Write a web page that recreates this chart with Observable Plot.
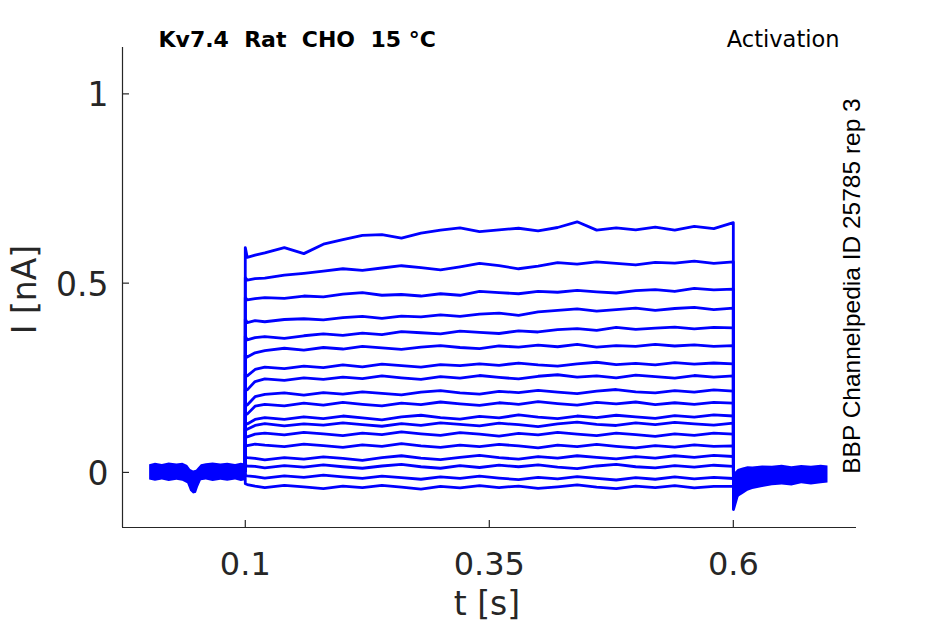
<!DOCTYPE html>
<html>
<head>
<meta charset="utf-8">
<script src="https://cdn.jsdelivr.net/npm/d3@7"></script>
<script src="https://cdn.jsdelivr.net/npm/@observablehq/plot@0.6"></script>
<style>
  html, body { margin: 0; padding: 0; background: #ffffff; }
</style>
</head>
<body>
<div id="chart"></div>
<script>
// ---- data ----
const xTicks = [0.1, 0.35, 0.6];
const yTicks = [0, 0.5, 1];
const xDomain = [-0.0258, 0.7262];
const yDomain = [-0.1455, 1.1225];

const titleText = "Kv7.4\u00a0\u00a0Rat\u00a0\u00a0CHO\u00a0\u00a015\u00a0°C";
const protocolText = "Activation";
const sideText = "BBP Channelpedia ID 25785 rep 3";
const xLabel = "t [s]";
const yLabel = "I [nA]";

// sample times (s) of each sweep
const T = [0.0999, 0.1, 0.102, 0.11, 0.12, 0.14, 0.16, 0.18, 0.2, 0.22, 0.24, 0.26, 0.28, 0.3, 0.32, 0.34,
           0.36, 0.38, 0.4, 0.42, 0.44, 0.46, 0.48, 0.5, 0.52, 0.54, 0.56, 0.58, 0.6, 0.6001, 0.606];

// current (nA) of each sweep, top to bottom
const sw01 = [0.005, 0.594, 0.568, 0.574, 0.58, 0.594, 0.578, 0.603, 0.615, 0.626, 0.628, 0.619, 0.632, 0.64, 0.646, 0.636, 0.641, 0.645, 0.638, 0.647, 0.662, 0.64, 0.646, 0.641, 0.648, 0.64, 0.65, 0.644, 0.66, -0.098, -0.045];
const sw02 = [0.005, 0.515, 0.508, 0.512, 0.513, 0.521, 0.526, 0.532, 0.538, 0.534, 0.54, 0.546, 0.541, 0.535, 0.543, 0.552, 0.546, 0.538, 0.545, 0.554, 0.55, 0.556, 0.552, 0.548, 0.555, 0.553, 0.558, 0.552, 0.556, -0.09, -0.04];
const sw03 = [0.005, 0.462, 0.456, 0.459, 0.462, 0.46, 0.466, 0.464, 0.471, 0.475, 0.468, 0.47, 0.466, 0.472, 0.468, 0.478, 0.475, 0.472, 0.478, 0.476, 0.481, 0.477, 0.474, 0.48, 0.483, 0.478, 0.486, 0.482, 0.484, -0.085, -0.04];
const sw04 = [0.004, 0.405, 0.396, 0.401, 0.398, 0.404, 0.406, 0.403, 0.409, 0.412, 0.407, 0.413, 0.411, 0.416, 0.412, 0.418, 0.421, 0.415, 0.424, 0.428, 0.432, 0.426, 0.43, 0.434, 0.428, 0.433, 0.436, 0.43, 0.434, -0.08, -0.035];
const sw05 = [0.004, 0.36, 0.35, 0.356, 0.359, 0.354, 0.361, 0.366, 0.362, 0.368, 0.364, 0.372, 0.369, 0.366, 0.373, 0.37, 0.367, 0.374, 0.371, 0.377, 0.38, 0.375, 0.383, 0.378, 0.381, 0.384, 0.379, 0.383, 0.382, -0.075, -0.035];
const sw06 = [0.004, 0.31, 0.305, 0.316, 0.322, 0.328, 0.323, 0.33, 0.326, 0.333, 0.329, 0.325, 0.331, 0.335, 0.33, 0.327, 0.334, 0.331, 0.336, 0.332, 0.338, 0.331, 0.335, 0.333, 0.338, 0.334, 0.337, 0.333, 0.335, -0.07, -0.03];
const sw07 = [0.004, 0.26, 0.255, 0.272, 0.278, 0.274, 0.281, 0.277, 0.284, 0.279, 0.286, 0.282, 0.278, 0.285, 0.282, 0.287, 0.283, 0.289, 0.284, 0.281, 0.287, 0.291, 0.285, 0.288, 0.284, 0.29, 0.286, 0.289, 0.287, -0.065, -0.03];
const sw08 = [0.004, 0.22, 0.218, 0.24, 0.247, 0.243, 0.25, 0.246, 0.252, 0.248, 0.255, 0.25, 0.246, 0.253, 0.249, 0.256, 0.251, 0.247, 0.254, 0.258, 0.252, 0.255, 0.25, 0.257, 0.253, 0.249, 0.256, 0.252, 0.255, -0.06, -0.03];
const sw09 = [0.004, 0.18, 0.178, 0.2, 0.206, 0.21, 0.204, 0.211, 0.207, 0.213, 0.209, 0.205, 0.212, 0.216, 0.21, 0.207, 0.214, 0.211, 0.217, 0.212, 0.208, 0.215, 0.219, 0.213, 0.21, 0.216, 0.212, 0.218, 0.215, -0.055, -0.028];
const sw10 = [0.004, 0.155, 0.154, 0.175, 0.18, 0.176, 0.183, 0.178, 0.185, 0.18, 0.176, 0.183, 0.179, 0.186, 0.181, 0.177, 0.184, 0.18, 0.187, 0.182, 0.178, 0.185, 0.181, 0.186, 0.179, 0.184, 0.18, 0.185, 0.183, -0.05, -0.025];
const sw11 = [0.004, 0.13, 0.128, 0.14, 0.145, 0.14, 0.147, 0.142, 0.149, 0.144, 0.139, 0.147, 0.151, 0.145, 0.141, 0.148, 0.144, 0.152, 0.146, 0.142, 0.149, 0.145, 0.151, 0.147, 0.143, 0.15, 0.146, 0.152, 0.149, -0.045, -0.025];
const sw12 = [0.004, 0.115, 0.114, 0.124, 0.129, 0.123, 0.128, 0.125, 0.131, 0.126, 0.122, 0.129, 0.124, 0.131, 0.127, 0.123, 0.13, 0.126, 0.121, 0.128, 0.133, 0.127, 0.124, 0.131, 0.126, 0.132, 0.128, 0.125, 0.13, -0.04, -0.022];
const sw13 = [0.004, 0.095, 0.094, 0.101, 0.104, 0.099, 0.106, 0.102, 0.097, 0.104, 0.1, 0.107, 0.102, 0.098, 0.105, 0.101, 0.096, 0.103, 0.099, 0.106, 0.101, 0.097, 0.104, 0.1, 0.095, 0.102, 0.098, 0.104, 0.101, -0.035, -0.02];
const sw14 = [0.004, 0.072, 0.071, 0.075, 0.072, 0.068, 0.075, 0.071, 0.066, 0.073, 0.069, 0.076, 0.07, 0.066, 0.072, 0.068, 0.074, 0.07, 0.065, 0.072, 0.068, 0.074, 0.069, 0.065, 0.071, 0.067, 0.073, 0.069, 0.07, -0.03, -0.02];
const sw15 = [0.004, 0.04, 0.039, 0.037, 0.033, 0.039, 0.035, 0.041, 0.037, 0.032, 0.039, 0.044, 0.038, 0.034, 0.04, 0.045, 0.039, 0.035, 0.042, 0.038, 0.044, 0.04, 0.036, 0.042, 0.038, 0.044, 0.04, 0.045, 0.042, -0.03, -0.018];
const sw16 = [0.004, 0.018, 0.017, 0.016, 0.012, 0.018, 0.014, 0.02, 0.015, 0.011, 0.017, 0.021, 0.015, 0.011, 0.018, 0.013, 0.019, 0.015, 0.02, 0.014, 0.01, 0.017, 0.021, 0.015, 0.012, 0.018, 0.014, 0.019, 0.016, -0.03, -0.018];
const sw17 = [0.004, -0.008, -0.009, -0.011, -0.015, -0.009, -0.013, -0.007, -0.012, -0.016, -0.01, -0.014, -0.018, -0.012, -0.016, -0.01, -0.015, -0.019, -0.013, -0.017, -0.011, -0.016, -0.02, -0.014, -0.018, -0.012, -0.017, -0.013, -0.016, -0.03, -0.02];
const sw18 = [0.004, -0.03, -0.032, -0.036, -0.04, -0.034, -0.038, -0.043, -0.036, -0.04, -0.034, -0.039, -0.044, -0.037, -0.041, -0.035, -0.04, -0.036, -0.042, -0.038, -0.033, -0.039, -0.043, -0.036, -0.04, -0.035, -0.041, -0.037, -0.037, -0.04, -0.025];

// overlapped holding-current envelope before the step
const preT  = [0.002, 0.008, 0.015, 0.022, 0.03, 0.036, 0.041, 0.044, 0.047, 0.05, 0.052, 0.055, 0.06, 0.067, 0.075, 0.082, 0.09, 0.096, 0.0999];
const preHi = [0.02, 0.024, 0.021, 0.025, 0.022, 0.024, 0.018, 0.008, 0.004, 0.006, 0.012, 0.02, 0.023, 0.025, 0.022, 0.024, 0.021, 0.024, 0.022];
const preLo = [-0.02, -0.023, -0.02, -0.024, -0.021, -0.023, -0.03, -0.05, -0.057, -0.055, -0.04, -0.022, -0.02, -0.024, -0.021, -0.023, -0.02, -0.024, -0.022];

// overlapped tail envelope after the step
const postT  = [0.6002, 0.602, 0.605, 0.61, 0.615, 0.62, 0.63, 0.64, 0.65, 0.66, 0.67, 0.68, 0.69, 0.697];
const postHi = [-0.01, 0.0, 0.008, 0.012, 0.015, 0.014, 0.017, 0.016, 0.019, 0.015, 0.018, 0.016, 0.019, 0.017];
const postLo = [-0.1, -0.08, -0.066, -0.058, -0.05, -0.045, -0.04, -0.035, -0.033, -0.036, -0.03, -0.033, -0.03, -0.028];

// ---- build tables ----
const sweeps = [sw01, sw02, sw03, sw04, sw05, sw06, sw07, sw08, sw09, sw10, sw11, sw12, sw13, sw14, sw15, sw16, sw17, sw18];
const rows = [];
sweeps.forEach((vals, k) => vals.forEach((v, i) => rows.push({sweep: k, t: T[i], v})));
const preRows = preT.map((t, i) => ({t, lo: preLo[i], hi: preHi[i]}));
const postRows = postT.map((t, i) => ({t, lo: postLo[i], hi: postHi[i]}));

const W = 945, H = 624;
const mL = 122, mR = 89, mT = 47, mB = 97;
const ink = "#262626";
const blue = "#0000ff";
const xTickLen = (yDomain[1] - yDomain[0]) * 7 / (H - mT - mB);
const yTickLen = (xDomain[1] - xDomain[0]) * 7 / (W - mL - mR);

const chart = Plot.plot({
  width: W,
  height: H,
  marginLeft: mL,
  marginRight: mR,
  marginTop: mT,
  marginBottom: mB,
  style: {fontFamily: "DejaVu Sans", color: ink, background: "#ffffff"},
  x: {domain: xDomain, ticks: xTicks},
  y: {domain: yDomain, ticks: yTicks},
  marks: [
    Plot.areaY(preRows, {x: "t", y1: "lo", y2: "hi", fill: blue}),
    Plot.areaY(postRows, {x: "t", y1: "lo", y2: "hi", fill: blue}),
    Plot.line(rows, {x: "t", y: "v", z: "sweep", stroke: blue, strokeWidth: 2.8}),
    Plot.ruleX([xDomain[0]], {stroke: ink, strokeWidth: 1.2}),
    Plot.ruleY([yDomain[0]], {stroke: ink, strokeWidth: 1.2}),
    Plot.ruleX(xTicks, {x: d => d, y1: yDomain[0], y2: yDomain[0] + xTickLen, stroke: ink, strokeWidth: 1.2}),
    Plot.ruleY(yTicks, {y: d => d, x1: xDomain[0], x2: xDomain[0] + yTickLen, stroke: ink, strokeWidth: 1.2}),
    Plot.axisX({ticks: xTicks, tickSize: 0, tickPadding: 25, fontSize: 32, fill: ink, label: null, tickFormat: d => String(d)}),
    Plot.axisY({ticks: yTicks, tickSize: 0, tickPadding: 14, fontSize: 33, fill: ink, label: null, dy: 2, tickFormat: d => String(d)}),
    Plot.text([yLabel], {frameAnchor: "left", textAnchor: "middle", lineAnchor: "middle", dx: -97, dy: 2, rotate: -90, fontSize: 33, fill: ink}),
    Plot.text([xLabel], {frameAnchor: "bottom", textAnchor: "middle", lineAnchor: "middle", dx: -2.5, dy: 77, fontSize: 33, fill: ink}),
    Plot.text([titleText], {frameAnchor: "top-left", textAnchor: "start", lineAnchor: "middle", dx: 36, dy: -8, fontSize: 22, fontWeight: "bold", fill: "#000000"}),
    Plot.text([protocolText], {frameAnchor: "top-right", textAnchor: "end", lineAnchor: "middle", dx: -17, dy: -8, fontSize: 22.5, fill: "#000000"}),
    Plot.text([sideText], {frameAnchor: "right", textAnchor: "middle", lineAnchor: "middle", dx: -4, dy: -1.5, rotate: -90, fontSize: 24.5, fontFamily: "Liberation Sans", fill: "#000000"})
  ]
});

document.getElementById("chart").appendChild(chart);
</script>
</body>
</html>
